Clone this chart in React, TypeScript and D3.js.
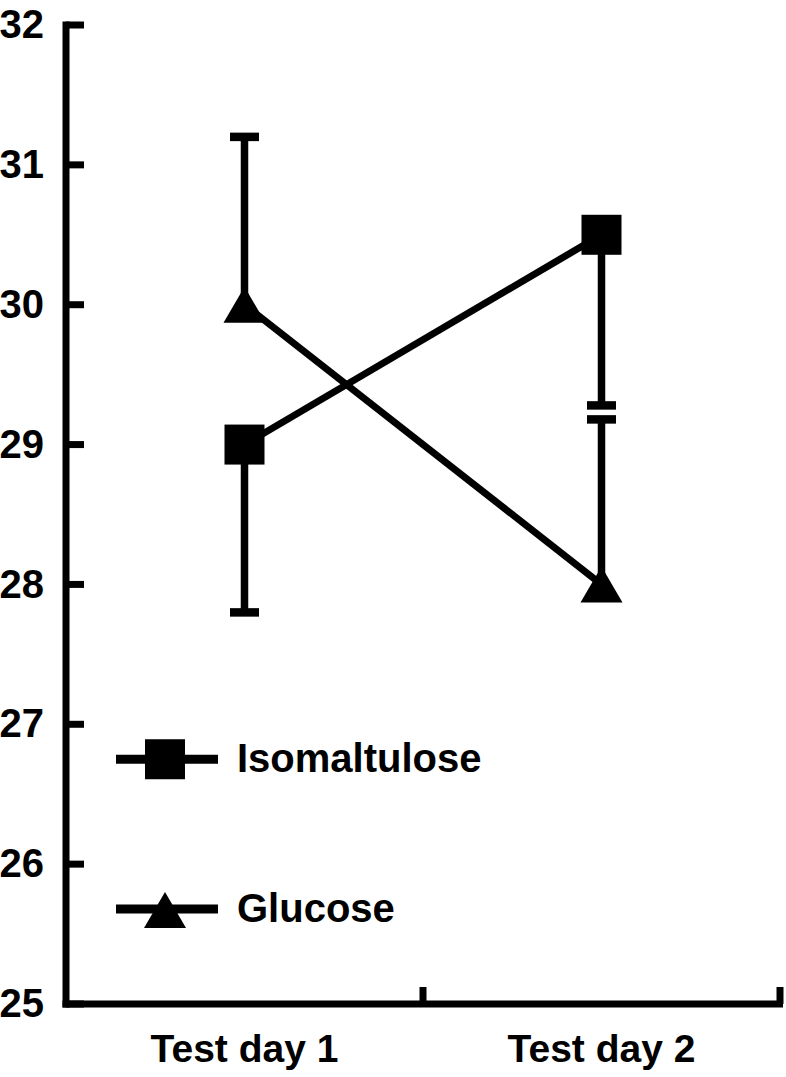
import React from 'react';
import * as d3 from 'd3';

const W = 786;
const H = 1077;

const days = ['Test day 1', 'Test day 2'];
const yTicks = [25, 26, 27, 28, 29, 30, 31, 32];

// mean and error bar end for each series
const isoMeans = [29.0, 30.5];
const isoErrEnd = [27.8, 29.28];
const gluMeans = [30.0, 28.0];
const gluErrEnd = [31.2, 29.18];

const series = [
  { name: 'Isomaltulose', shape: 'square', means: isoMeans, errEnd: isoErrEnd },
  { name: 'Glucose', shape: 'triangle', means: gluMeans, errEnd: gluErrEnd },
];

const legendValues = [26.75, 25.68];

const font = '"Liberation Sans", Arial, sans-serif';

const Marker = ({ shape, x, y }: { shape: string; x: number; y: number }) => {
  if (shape === 'square') {
    return <rect x={x - 20} y={y - 20} width={40} height={40} fill="#000" />;
  }
  return <path d={`M${x},${y - 18} L${x + 21},${y + 18} L${x - 21},${y + 18} Z`} fill="#000" />;
};

const App = () => {
  const x = d3.scaleBand<string>().domain(days).range([66, 780]);
  const y = d3.scaleLinear().domain([25, 32]).range([1004, 25]);
  const line = d3.line<number>()
    .x((_, i) => (x(days[i]) as number) + x.bandwidth() / 2)
    .y(d => y(d));

  return (
    <svg width={W} height={H} style={{ position: 'absolute', left: 0, top: 0, background: '#fff' }}
      fontFamily={font} fontWeight="bold">
      {/* axes */}
      <line x1={66} x2={66} y1={21.5} y2={1007.5} stroke="#000" strokeWidth={7} />
      <line x1={62.5} x2={783} y1={1004} y2={1004} stroke="#000" strokeWidth={7} />
      {yTicks.map(t => (
        <g key={t}>
          <line x1={66} x2={84} y1={y(t)} y2={y(t)} stroke="#000" strokeWidth={7} />
          <text x={44} y={y(t)} dy="0.33em" textAnchor="end" fontSize={40}>{t}</text>
        </g>
      ))}
      {[x(days[1]) as number, 780].map(v => (
        <line key={v} x1={v} x2={v} y1={1004} y2={987} stroke="#000" strokeWidth={7} />
      ))}
      {days.map(d => (
        <text key={d} x={(x(d) as number) + x.bandwidth() / 2} y={1062} textAnchor="middle" fontSize={39}>{d}</text>
      ))}

      {/* lines */}
      {series.map(s => (
        <path key={s.name} d={line(s.means) || ''} fill="none" stroke="#000" strokeWidth={7} />
      ))}

      {/* error bars */}
      {series.map(s => s.means.map((m, i) => {
        const cx = (x(days[i]) as number) + x.bandwidth() / 2;
        return (
          <g key={s.name + i}>
            <line x1={cx} x2={cx} y1={y(m)} y2={y(s.errEnd[i])} stroke="#000" strokeWidth={7.5} />
            <line x1={cx - 14.5} x2={cx + 14.5} y1={y(s.errEnd[i])} y2={y(s.errEnd[i])} stroke="#000" strokeWidth={8.5} />
          </g>
        );
      }))}

      {/* markers */}
      {series.map(s => s.means.map((m, i) => (
        <Marker key={s.name + 'm' + i} shape={s.shape} x={(x(days[i]) as number) + x.bandwidth() / 2} y={y(m)} />
      )))}

      {/* legend */}
      {series.map((s, i) => {
        const ly = y(legendValues[i]);
        return (
          <g key={'leg' + s.name}>
            <line x1={116} x2={218} y1={ly} y2={ly} stroke="#000" strokeWidth={9} />
            <Marker shape={s.shape} x={165} y={ly + (s.shape === 'triangle' ? 1 : 0)} />
            <text x={237} y={ly + 13} fontSize={40}>{s.name}</text>
          </g>
        );
      })}
    </svg>
  );
};

export default App;
